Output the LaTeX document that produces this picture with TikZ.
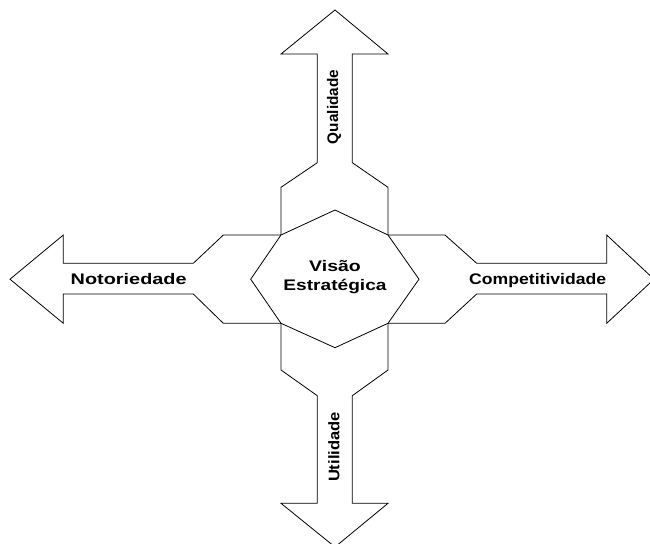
\documentclass[tikz,border=0pt]{standalone}
\usepackage{fontspec}
\setmainfont{Liberation Sans}
\begin{document}
\begin{tikzpicture}[x=0.75pt,y=-0.75pt,
  shapeline/.style={draw=black, line width=0.6pt, fill=white, line join=miter},
  armtext/.style={font=\fontsize{11.5}{14}\selectfont\bfseries, inner sep=0pt},
]
\useasboundingbox (0,0) rectangle (650,543);
\clip (0,0) rectangle (650,543);
\fill[white] (0,0) rectangle (650,543);

% the four-armed outline: up, right, down, left
\draw[shapeline]
  (335,10) -- (388,54) -- (352.3,54) -- (352.3,162.7) -- (388,187.3) -- (388,235)
  -- (445,235) -- (476.7,263.3) -- (606.7,263.3) -- (606.7,235) -- (654,279.2)
  -- (606.7,323.3) -- (606.7,294) -- (476.7,294) -- (445,323.3) -- (388,323.3)
  -- (388,370) -- (352.3,395.7) -- (352.3,503.3) -- (388,503.3) -- (335,547)
  -- (281,503.3) -- (317.3,503.3) -- (317.3,395.7) -- (281,370) -- (281,323.3)
  -- (223.3,323.3) -- (193.3,294) -- (63.3,294) -- (63.3,323.3) -- (10,279.2)
  -- (63.3,235) -- (63.3,263.3) -- (193.3,263.3) -- (223.3,235) -- (281,235)
  -- (281,187.3) -- (317.3,162.7) -- (317.3,54) -- (281,54) -- cycle;

% central octagon
\draw[shapeline]
  (335,210) -- (388,235) -- (419,279.2) -- (388,323.3) -- (335,347.7)
  -- (281,323.3) -- (250.7,279.2) -- (281,235) -- cycle;

% texts
\node[armtext, anchor=base] (visao) at (335,271) {\scalebox{1.27}[1]{Visão}};
\node[armtext, anchor=base] (estrategica) at (335,290.7) {\scalebox{1.247}[1]{Estratégica}};
\node[armtext, anchor=base] (notoriedade) at (128.7,284.3) {\scalebox{1.296}[1]{Notoriedade}};
\node[armtext, anchor=base] (competitividade) at (537.7,284.3) {\scalebox{1.148}[1]{Competitividade}};
\node[armtext, rotate=90] (qualidade) at (334,107) {Qualidade};
\node[armtext, rotate=90] (utilidade) at (334,447) {\scalebox{1.08}[1]{Utilidade}};
\end{tikzpicture}
\end{document}
